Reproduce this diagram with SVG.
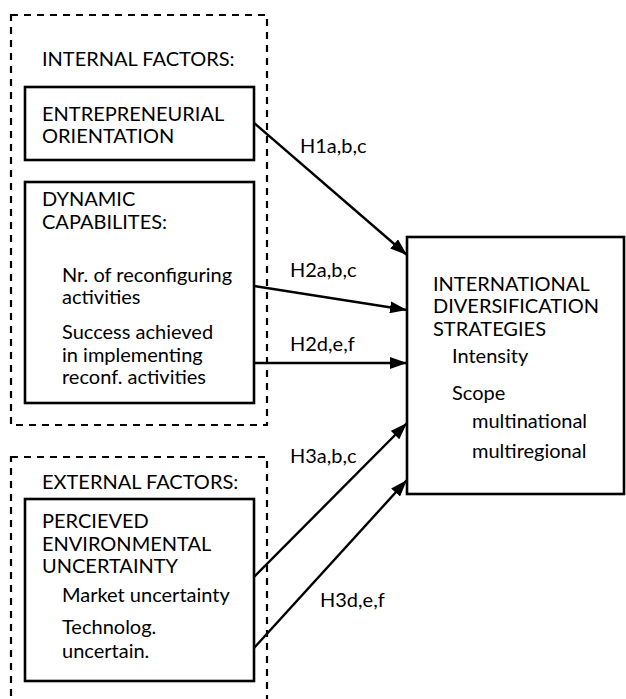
<svg xmlns="http://www.w3.org/2000/svg" width="626" height="699" viewBox="0 0 626 699">
<defs>
<marker id="ah" markerWidth="17" markerHeight="12" refX="17" refY="6" orient="auto" markerUnits="userSpaceOnUse">
<path d="M0,0 L17,6 L0,12 Z" fill="#000"/>
</marker>
<style>
text{font-family:Lato,"Open Sans",sans-serif;font-size:20px;fill:#000}
.dash{fill:none;stroke:#000;stroke-width:2.2;stroke-dasharray:7 6}
.box{fill:#fff;stroke:#000;stroke-width:2.6}
.conn line{stroke:#000;stroke-width:2.4;marker-end:url(#ah)}
</style>
</defs>
<rect x="0" y="0" width="626" height="699" fill="#fff"/>
<g id="internal">
<rect class="dash" x="11" y="15" width="256" height="410"/>
<text x="42" y="66">INTERNAL FACTORS:</text>
</g>
<g id="external">
<rect class="dash" x="11" y="457" width="256" height="260"/>
<text x="42" y="489">EXTERNAL FACTORS:</text>
</g>
<g id="eo">
<rect class="box" x="25" y="87" width="229" height="73"/>
<text x="42" y="121">ENTREPRENEURIAL</text>
<text x="42" y="143">ORIENTATION</text>
</g>
<g id="dc">
<rect class="box" x="25" y="182" width="229" height="221"/>
<text x="42" y="206">DYNAMIC</text>
<text x="42" y="229">CAPABILITES:</text>
<text x="62" y="282">Nr. of reconfiguring</text>
<text x="62" y="304">activities</text>
<text x="62" y="339">Success achieved</text>
<text x="62" y="362">in implementing</text>
<text x="62" y="384">reconf. activities</text>
</g>
<g id="peu">
<rect class="box" x="25" y="499" width="229" height="182"/>
<text x="42" y="528">PERCIEVED</text>
<text x="42" y="551">ENVIRONMENTAL</text>
<text x="42" y="573">UNCERTAINTY</text>
<text x="62" y="602">Market uncertainty</text>
<text x="62" y="634">Technolog.</text>
<text x="62" y="658">uncertain.</text>
</g>
<g id="ids">
<rect class="box" x="407" y="237" width="217" height="257"/>
<text x="433" y="291">INTERNATIONAL</text>
<text x="433" y="313">DIVERSIFICATION</text>
<text x="433" y="336">STRATEGIES</text>
<text x="452" y="363">Intensity</text>
<text x="452" y="400">Scope</text>
<text x="472" y="428">multinational</text>
<text x="472" y="458">multiregional</text>
</g>
<g id="connectors" class="conn">
<line x1="254" y1="123" x2="407" y2="255"/>
<line x1="254" y1="286" x2="407" y2="310"/>
<line x1="254" y1="363" x2="407" y2="363"/>
<line x1="254" y1="577" x2="407" y2="423"/>
<line x1="254" y1="648" x2="407" y2="480"/>
</g>
<g id="labels">
<text x="300" y="153">H1a,b,c</text>
<text x="290" y="277">H2a,b,c</text>
<text x="290" y="351">H2d,e,f</text>
<text x="290" y="463">H3a,b,c</text>
<text x="320" y="607">H3d,e,f</text>
</g>
</svg>
